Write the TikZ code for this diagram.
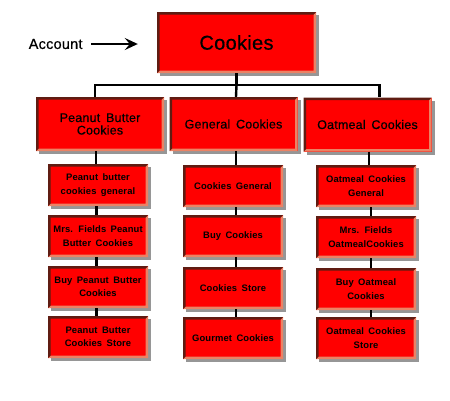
\documentclass[tikz,border=0pt]{standalone}
\usepackage{fontspec}
\setmainfont{Liberation Sans}
\newfontfamily\medfont[FakeBold=0.6, WordSpace=1.6, LetterSpace=1.5]{Liberation Sans}
\newfontfamily\leaffont[WordSpace=1.6, LetterSpace=1.5]{Liberation Sans}
\usetikzlibrary{arrows.meta,shadows}
\definecolor{boxred}{RGB}{255,0,0}
\definecolor{edgedark}{RGB}{95,28,18}
\definecolor{edgelight}{RGB}{235,130,100}
\tikzset{
  box/.style={fill=boxred, inner sep=0pt, align=center,
    drop shadow={shadow xshift=3pt, shadow yshift=-3pt, opacity=0.55, fill=black!75},
    path picture={
      \fill[edgelight] (path picture bounding box.south west) -- (path picture bounding box.south east)
        -- (path picture bounding box.north east) -- ([xshift=-2.5pt,yshift=-2.5pt]path picture bounding box.north east)
        -- ([xshift=-2.5pt,yshift=2.5pt]path picture bounding box.south east)
        -- ([xshift=2.5pt,yshift=2.5pt]path picture bounding box.south west) -- cycle;
      \fill[edgedark] (path picture bounding box.south west) -- (path picture bounding box.north west)
        -- (path picture bounding box.north east) -- ([xshift=-2.5pt,yshift=-2.5pt]path picture bounding box.north east)
        -- ([xshift=2.5pt,yshift=-2.5pt]path picture bounding box.north west)
        -- ([xshift=2.5pt,yshift=2.5pt]path picture bounding box.south west) -- cycle;
    }},
  topbox/.style={box, minimum width=159pt, minimum height=61pt, font=\medfont\fontsize{20}{24}\selectfont},
  catbox/.style={box, minimum width=128pt, minimum height=54pt, font=\medfont\fontsize{12.5}{12.5}\selectfont},
  leafbox/.style={box, minimum width=100pt, minimum height=42pt, font=\leaffont\bfseries\fontsize{9.4}{13.5}\selectfont},
  conn/.style={line width=2.4pt, black},
}
\begin{document}
\begin{tikzpicture}[x=1pt, y=-1pt]
\useasboundingbox (0,0) rectangle (450,400);
% top
\node[topbox] (top) at (236.5,42.5) {Cookies};
\node[font=\medfont\fontsize{14.5}{15}\selectfont, anchor=east] (acc) at (86,44) {Account};
\draw[line width=2pt, -{Stealth[length=13pt, width=12pt, inset=5pt]}] (acc.east) ++(5pt,0) coordinate (accs) -- ([xshift=-19pt]top.west |- acc.east);
% categories
\node[catbox] (c1) at (100,124) {Peanut Butter\\Cookies};
\node[catbox] (c2) at (233.5,124) {General Cookies};
\node[catbox] (c3) at (367.5,124.5) {Oatmeal Cookies};
% leaves
\node[leafbox] (a1) at (98,185) {Peanut butter\\cookies general};
\node[leafbox] (a2) at (98,236) {Mrs. Fields Peanut\\Butter Cookies};
\node[leafbox] (a3) at (98,287) {Buy Peanut Butter\\Cookies};
\node[leafbox] (a4) at (98,337) {Peanut Butter\\Cookies Store};
\node[leafbox] (b1) at (233,186) {Cookies General};
\node[leafbox] (b2) at (233,236) {Buy Cookies};
\node[leafbox] (b3) at (233,288) {Cookies Store};
\node[leafbox] (b4) at (233,338) {Gourmet Cookies};
\node[leafbox] (d1) at (366,186) {Oatmeal Cookies\\General};
\node[leafbox] (d2) at (366,237) {Mrs. Fields\\OatmealCookies};
\node[leafbox] (d3) at (366,289) {Buy Oatmeal\\Cookies};
\node[leafbox] (d4) at (366,338) {Oatmeal Cookies\\Store};
% connectors
\draw[conn] (top.south) -- ++(0,12) coordinate (hub);
\draw[conn] ([xshift=-5pt]c1.north) |- (hub) -| ([xshift=12pt]c3.north);
\draw[conn] (hub) -- ([xshift=2.5pt]c2.north);
\draw[conn] ([xshift=-4pt]c1.south) -- ([xshift=-2pt]a1.north);
\draw[conn] ([xshift=-1.5pt]a1.south) -- ([xshift=-1.5pt]a2.north);
\draw[conn] ([xshift=-1.5pt]a2.south) -- ([xshift=-1.5pt]a3.north);
\draw[conn] ([xshift=-1.5pt]a3.south) -- ([xshift=-1.5pt]a4.north);
\draw[conn] ([xshift=2.5pt]c2.south) -- ([xshift=3pt]b1.north);
\draw[conn] ([xshift=3pt]b1.south) -- ([xshift=3pt]b2.north);
\draw[conn] ([xshift=3pt]b2.south) -- ([xshift=3pt]b3.north);
\draw[conn] ([xshift=3pt]b3.south) -- ([xshift=3pt]b4.north);
\draw[conn] ([xshift=1.5pt]c3.south) -- ([xshift=3pt]d1.north);
\draw[conn] ([xshift=5pt]d1.south) -- ([xshift=5pt]d2.north);
\draw[conn] ([xshift=5pt]d2.south) -- ([xshift=5pt]d3.north);
\draw[conn] ([xshift=5pt]d3.south) -- ([xshift=5pt]d4.north);
\end{tikzpicture}
\end{document}
